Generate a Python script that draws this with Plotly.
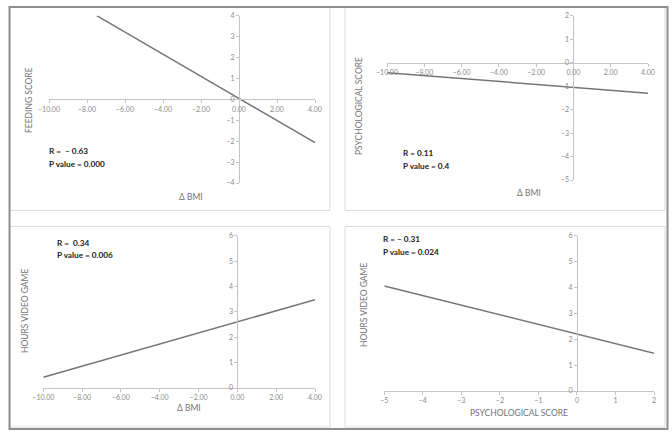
import plotly.graph_objects as go

W, H = 672, 437

# ---- data ----
feeding_x = [-7.49, 4.0]
feeding_y = [4.0, -2.07]
psych_bmi_x = [-10.0, 4.0]
psych_bmi_y = [-0.43, -1.30]
hours_bmi_x = [-10.0, 4.0]
hours_bmi_y = [0.42, 3.48]
hours_psych_x = [-5.0, 2.0]
hours_psych_y = [4.06, 1.46]

stats_r = ["R =  \u2013 0.63", "R = 0.11", "R =  0.34", "R = \u2013 0.31"]
stats_p = ["P value = 0.000", "P value = 0.4", "P value = 0.006", "P value = 0.024"]
x_titles = ["\u0394 BMI", "\u0394 BMI", "\u0394 BMI", "PSYCHOLOGICAL SCORE"]
y_titles = ["FEEDING SCORE", "PSYCHOLOGICAL SCORE", "HOURS VIDEO GAME", "HOURS VIDEO GAME"]

x_ranges = [[-10, 4], [-10, 4], [-10, 4], [-5, 2]]
y_ranges = [[-4, 4], [-5, 2], [0, 6], [0, 6]]

# ---- layout geometry (pixels) ----
# plot area per panel: (left, right, bottom, top) in px
areas = [
    (49, 315, 183, 15.7),
    (387, 648, 180, 15.7),
    (43.3, 315, 388, 235.7),
    (384.3, 654, 391, 235.7),
]
xt_pos = [(191, 197), (529, 193), (189, 408), (519, 413)]
yt_pos = [(29, 100), (359, 106), (25, 311), (364, 305)]
stat_pos = [(47, 151), (401, 153), (55, 243), (381, 239)]

def px(x):
    return x / W

def py(y):
    return 1 - y / H

LINE = "#767676"
AXIS = "#c4c4c4"
TICK = "#8a8a8a"
TITLE = "#737373"
FONT = "Lato"

fig = go.Figure()
series = [(feeding_x, feeding_y), (psych_bmi_x, psych_bmi_y),
          (hours_bmi_x, hours_bmi_y), (hours_psych_x, hours_psych_y)]

layout = dict(
    width=W, height=H, margin=dict(l=0, r=0, t=0, b=0, pad=0, autoexpand=False),
    paper_bgcolor="white", plot_bgcolor="rgba(0,0,0,0)",
    showlegend=False, font=dict(family=FONT, color=TICK, size=7),
)

annotations = []
for i, ((xs, ys), (l, r, b, t)) in enumerate(zip(series, areas)):
    n = "" if i == 0 else str(i + 1)
    xr, yr = x_ranges[i], y_ranges[i]
    fig.add_trace(go.Scatter(x=xs, y=ys, mode="lines",
                             line=dict(color=LINE, width=1.5),
                             xaxis="x" + n, yaxis="y" + n, hoverinfo="skip"))
    xd = [px(l), px(r)]
    yd = [py(b), py(t)]
    # position of zero lines in paper coordinates
    ypos0 = yd[0] + (0 - yr[0]) / (yr[1] - yr[0]) * (yd[1] - yd[0])
    xpos0 = xd[0] + (0 - xr[0]) / (xr[1] - xr[0]) * (xd[1] - xd[0])
    is_float = i < 3
    layout["xaxis" + n] = dict(
        domain=xd, range=xr, anchor="free", position=ypos0, automargin=False,
        showgrid=False, zeroline=False, showline=True, linecolor=AXIS, linewidth=1,
        ticks="outside", ticklen=3, tickcolor=AXIS, dtick=2 if is_float else 1,
        tick0=0, tickformat=".2f" if is_float else "d",
        tickfont=dict(family=FONT, size=7, color=TICK), fixedrange=True,
    )
    layout["yaxis" + n] = dict(
        domain=yd, range=yr, anchor="free", position=xpos0, automargin=False,
        showgrid=False, zeroline=False, showline=True, linecolor=AXIS, linewidth=1,
        ticks="outside", ticklen=3, tickcolor=AXIS, dtick=1, tick0=0,
        tickfont=dict(family=FONT, size=7, color=TICK), fixedrange=True,
    )
    annotations.append(dict(x=px(xt_pos[i][0]), y=py(xt_pos[i][1]), xref="paper", yref="paper",
                            text=x_titles[i], showarrow=False,
                            xanchor="center", yanchor="middle",
                            font=dict(family=FONT, size=8.5, color=TITLE)))
    annotations.append(dict(x=px(yt_pos[i][0]), y=py(yt_pos[i][1]), xref="paper", yref="paper",
                            text=y_titles[i], showarrow=False, textangle=-90,
                            xanchor="center", yanchor="middle",
                            font=dict(family=FONT, size=8.5, color=TITLE)))
    annotations.append(dict(x=px(stat_pos[i][0]), y=py(stat_pos[i][1]), xref="paper", yref="paper",
                            text="<b>" + stats_r[i] + "</b>", showarrow=False,
                            xanchor="left", yanchor="middle",
                            font=dict(family=FONT, size=8.2, color="#222222")))
    annotations.append(dict(x=px(stat_pos[i][0]), y=py(stat_pos[i][1] + 12.5), xref="paper", yref="paper",
                            text="<b>" + stats_p[i] + "</b>", showarrow=False,
                            xanchor="left", yanchor="middle",
                            font=dict(family=FONT, size=8.2, color="#222222")))

layout["annotations"] = annotations

# panel frames (pixels)
panels = [(10, 330, 7, 210.5), (345, 665, 7, 210.5), (10, 330, 226.5, 427), (345, 665, 226.5, 427)]
shapes = []
for (x0, x1, y0, y1) in panels:
    shapes.append(dict(type="rect", xref="paper", yref="paper",
                       x0=px(x0), x1=px(x1), y0=py(y1), y1=py(y0),
                       line=dict(color="#dcdcdc", width=1), layer="below"))
shapes.append(dict(type="rect", xref="paper", yref="paper",
                   x0=px(9.5), x1=px(667.5), y0=py(429), y1=py(7),
                   line=dict(color="#8f8f8f", width=2), layer="above"))
layout["shapes"] = shapes

fig.update_layout(**layout)
fig.write_html(
    "out.html",
    config={"displayModeBar": False, "staticPlot": True},
    post_script="document.body.style.margin='0';document.body.style.overflow='hidden';",
)
